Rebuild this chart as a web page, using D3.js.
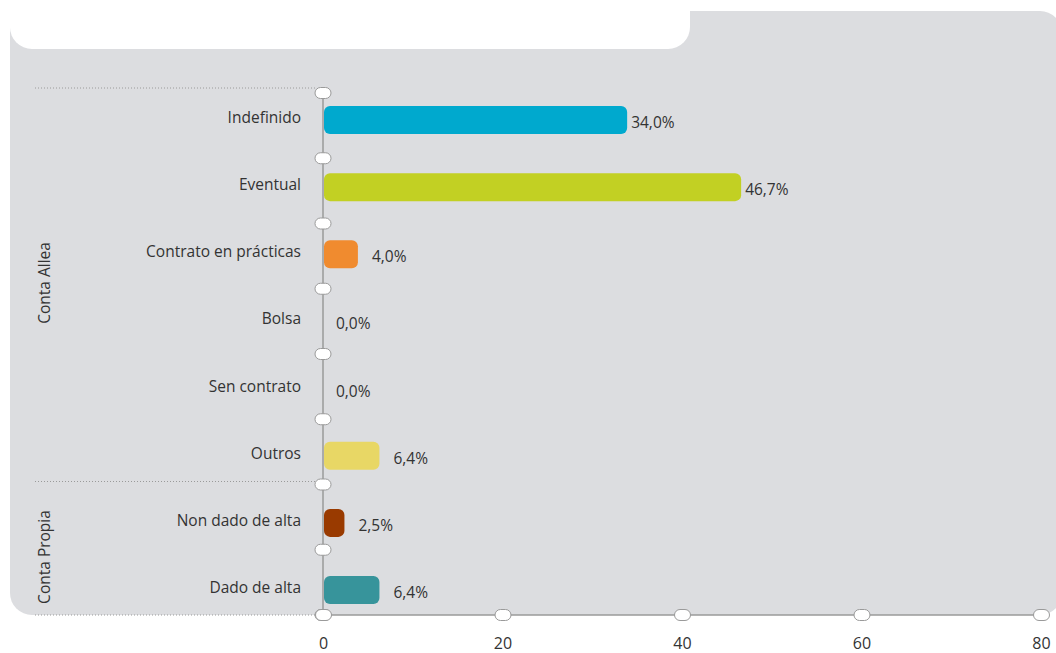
<!DOCTYPE html>
<html><head><meta charset="utf-8">
<script src="https://cdn.jsdelivr.net/npm/d3@7"></script>
<style>
html,body{margin:0;padding:0;background:#fff;}
svg{display:block;}
text{font-family:"Open Sans","Noto Sans",sans-serif;fill:#333;}
</style></head>
<body>
<svg id="chart" width="1056" height="653"></svg>
<script>
const categories = ["Indefinido","Eventual","Contrato en prácticas","Bolsa","Sen contrato","Outros","Non dado de alta","Dado de alta"];
const values = [34.0, 46.7, 4.0, 0.0, 0.0, 6.4, 2.5, 6.4];
const barColors = ["#00a9ce","#c2d023","#f08b2f","#c2d023","#c2d023","#e8d765","#993a00","#37949b"];
const groupNames = ["Conta Allea","Conta Propia"];
const groupStart = [0, 6];
const groupEnd = [6, 8];
const xTicks = [0,20,40,60,80];

const svg = d3.select("#chart");

// background panel
svg.append("rect").attr("x",10).attr("y",11).attr("width",1052).attr("height",604)
  .attr("rx",22).attr("fill","#dcdde0");
svg.append("rect").attr("x",10).attr("y",-40).attr("width",680).attr("height",89)
  .attr("rx",22).attr("fill","#ffffff");

const x = d3.scaleLinear().domain([0,80]).range([323,1041]);
const yBar = d3.scaleBand().domain(categories).range([86.4,623.6]).paddingInner(0.58).paddingOuter(0.29);
const yTick = d3.scaleLinear().domain([0,categories.length]).range([93,615]);

const loc = d3.formatLocale({decimal:",",thousands:".",grouping:[3],currency:["","€"]});
const fmt = loc.format(".1f");

// dotted group separators
const sepIdx = [0,6,8];
const sepOff = [-5,-3,0];
svg.selectAll("line.sep").data(sepIdx).join("line").attr("class","sep")
  .attr("x1",35).attr("x2",316)
  .attr("y1",(d,i)=>yTick(d)+sepOff[i]).attr("y2",(d,i)=>yTick(d)+sepOff[i])
  .attr("stroke","#9a9a9a").attr("stroke-width",1).attr("stroke-dasharray","1,2");

// axes lines
svg.append("line").attr("x1",x(0)).attr("x2",x(80)).attr("y1",yTick(8)).attr("y2",yTick(8))
  .attr("stroke","#9a9a9a").attr("stroke-width",1.5);
svg.append("line").attr("x1",x(0)).attr("x2",x(0)).attr("y1",yTick(0)).attr("y2",yTick(8))
  .attr("stroke","#9a9a9a").attr("stroke-width",1.5);

// bars
const barH = 28;
svg.selectAll("rect.bar").data(values).join("rect").attr("class","bar")
  .attr("x",x(0)+1)
  .attr("y",(d,i)=>yBar(categories[i])+yBar.bandwidth()/2-barH/2)
  .attr("width",d=>Math.max(0,x(d)-x(0)-2))
  .attr("height",barH).attr("rx",6)
  .attr("fill",(d,i)=>barColors[i])
  .style("display",d=>d>0?null:"none");

// pill markers on y axis
svg.selectAll("rect.ypill").data(d3.range(categories.length+1)).join("rect").attr("class","ypill")
  .attr("x",x(0)-8).attr("y",d=>yTick(d)-5.5).attr("width",16).attr("height",11).attr("rx",5.5)
  .attr("fill","#fff").attr("stroke","#9a9a9a").attr("stroke-width",1);

// x-axis via d3 axis
const xAxis = d3.axisBottom(x).tickValues(xTicks).tickSize(0).tickPadding(23).tickFormat(d3.format("d"));
const gx = svg.append("g").attr("transform",`translate(0,${yTick(8)})`).call(xAxis);
gx.select(".domain").remove();
gx.selectAll(".tick text").attr("font-size",16).attr("fill","#333")
  .style("font-family",'"Open Sans","Noto Sans",sans-serif');
gx.selectAll(".tick").append("rect")
  .attr("x",-8).attr("y",-5.5).attr("width",16).attr("height",11).attr("rx",5.5)
  .attr("fill","#fff").attr("stroke","#9a9a9a").attr("stroke-width",1);

// category labels
svg.selectAll("text.cat").data(categories).join("text").attr("class","cat")
  .attr("x",301).attr("y",d=>yBar(d)+yBar.bandwidth()/2-3)
  .attr("text-anchor","end").attr("dominant-baseline","central")
  .attr("font-size",15.5).text(d=>d);

// value labels
svg.selectAll("text.val").data(values).join("text").attr("class","val")
  .attr("x",d=>x(d)+(d>=10?3:13))
  .attr("y",(d,i)=>yBar(categories[i])+yBar.bandwidth()/2+2)
  .attr("dominant-baseline","central")
  .attr("font-size",15.5).text(d=>fmt(d)+"%");

// group labels (rotated)
const groupY = [283, 557];
svg.selectAll("text.grp").data(groupNames).join("text").attr("class","grp")
  .attr("transform",(d,i)=>`translate(44,${groupY[i]}) rotate(-90)`)
  .attr("text-anchor","middle").attr("dominant-baseline","central")
  .attr("font-size",15.5).text(d=>d);
</script>
</body></html>
